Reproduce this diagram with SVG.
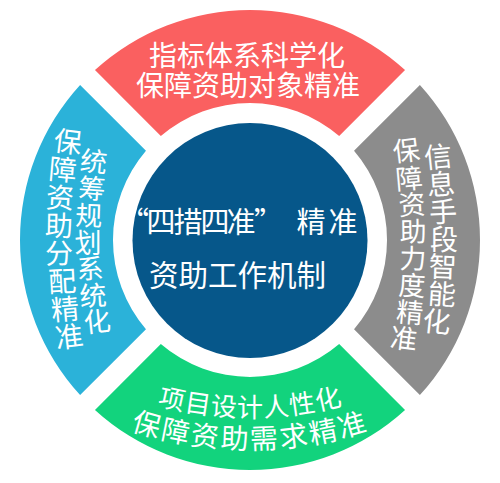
<svg xmlns="http://www.w3.org/2000/svg" width="500" height="483" viewBox="0 0 500 483">
<style>
  .t{fill:#fff;font-family:"Noto Sans CJK SC","Noto Sans",sans-serif;}
  .c{dominant-baseline:central;text-anchor:middle;}
</style>
<defs>
  <path id="seg" d="M -155.04,-169.89 A 230 230 0 0 1 155.04,-169.89 L 89.17,-104.02 A 137 137 0 0 0 -89.17,-104.02 Z"/>
  <path id="arcB1" d="M -110,45 A 360 360 0 0 0 610,45"/>
  <path id="arcB2" d="M -125,62 A 375 375 0 0 0 625,62"/>
</defs>
<rect width="500" height="483" fill="#fff"/>

<g id="node-top">
  <use href="#seg" transform="translate(250,240)" fill="#FA6060"/>
  <text class="t" x="247" y="66" font-size="28" text-anchor="middle">指标体系科学化</text>
  <text class="t" x="248" y="96" font-size="28" text-anchor="middle">保障资助对象精准</text>
</g>

<g id="node-right">
  <use href="#seg" transform="translate(250,240) rotate(90)" fill="#8C8C8C"/>
  <g class="t c" font-size="28">
    <text x="438" y="155" transform="rotate(-6 438 155)">信</text>
    <text x="441" y="182.5" transform="rotate(-4 441 182.5)">息</text>
    <text x="443" y="210" transform="rotate(-2 443 210)">手</text>
    <text x="444" y="237.5">段</text>
    <text x="443" y="265" transform="rotate(2 443 265)">智</text>
    <text x="442" y="292.5" transform="rotate(4 442 292.5)">能</text>
    <text x="437" y="320" transform="rotate(6 437 320)">化</text>
  </g>
  <g class="t c" font-size="27">
    <text x="406" y="149" transform="rotate(-7 406 149)">保</text>
    <text x="409" y="177" transform="rotate(-5 409 177)">障</text>
    <text x="412" y="203" transform="rotate(-3 412 203)">资</text>
    <text x="413" y="230" transform="rotate(-1 413 230)">助</text>
    <text x="413" y="257" transform="rotate(1 413 257)">力</text>
    <text x="412" y="284" transform="rotate(3 412 284)">度</text>
    <text x="410" y="311" transform="rotate(5 410 311)">精</text>
    <text x="404" y="337" transform="rotate(7 404 337)">准</text>
  </g>
</g>

<g id="node-bottom">
  <use href="#seg" transform="translate(250,240) rotate(180)" fill="#12D37D"/>
  <text class="t" font-size="26" dominant-baseline="central"><textPath href="#arcB1" startOffset="50%" text-anchor="middle">项目设计人性化</textPath></text>
  <text class="t" font-size="28" letter-spacing="1.5" dominant-baseline="central"><textPath href="#arcB2" startOffset="50%" text-anchor="middle">保障资助需求精准</textPath></text>
</g>

<g id="node-left">
  <use href="#seg" transform="translate(250,240) rotate(270)" fill="#2BB2D9"/>
  <g class="t c" font-size="27">
    <text x="94" y="160" transform="rotate(6 94 160)">统</text>
    <text x="92" y="187" transform="rotate(4 92 187)">筹</text>
    <text x="89" y="214" transform="rotate(2 89 214)">规</text>
    <text x="88" y="241">划</text>
    <text x="90" y="267" transform="rotate(-2 90 267)">系</text>
    <text x="93" y="294" transform="rotate(-4 93 294)">统</text>
    <text x="97" y="320" transform="rotate(-6 97 320)">化</text>
  </g>
  <g class="t c" font-size="28">
    <text x="68" y="140" transform="rotate(7 68 140)">保</text>
    <text x="63" y="168" transform="rotate(5 63 168)">障</text>
    <text x="60" y="196" transform="rotate(3 60 196)">资</text>
    <text x="59" y="224" transform="rotate(1 59 224)">助</text>
    <text x="59" y="251.5" transform="rotate(-1 59 251.5)">分</text>
    <text x="62" y="279.5" transform="rotate(-3 62 279.5)">配</text>
    <text x="65" y="307.5" transform="rotate(-5 65 307.5)">精</text>
    <text x="69" y="335" transform="rotate(-7 69 335)">准</text>
  </g>
</g>

<g id="node-center">
  <circle cx="250" cy="240.5" r="117.5" fill="#06578A"/>
  <text class="t" font-size="29" x="120 146.5 173.5 200.5 226.5 254 296.5 328.5" y="233">“四措四准”精准</text>
  <text class="t" font-size="29.5" x="149" y="286">资助工作机制</text>
</g>

<g id="connectors"></g>
</svg>
